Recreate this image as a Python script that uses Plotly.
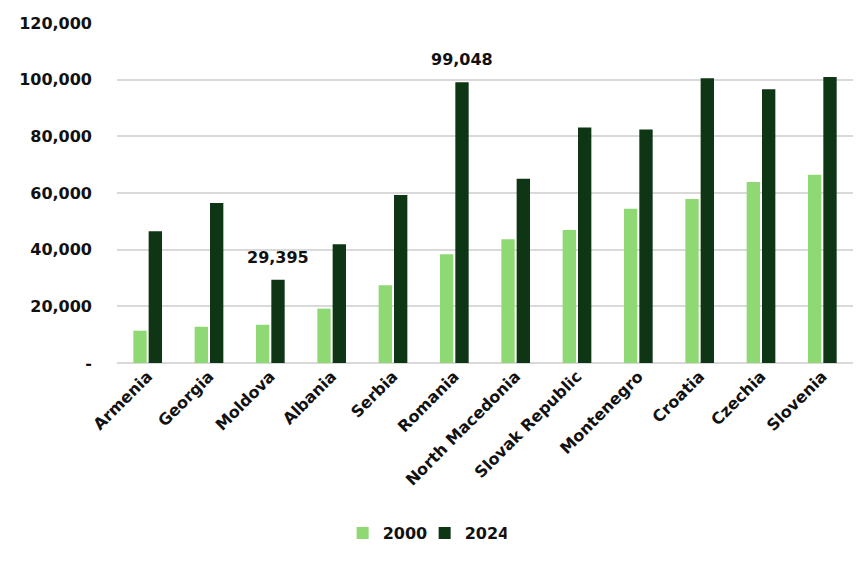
import plotly.graph_objects as go

countries = ["Armenia", "Georgia", "Moldova", "Albania", "Serbia", "Romania",
             "North Macedonia", "Slovak Republic", "Montenegro", "Croatia", "Czechia", "Slovenia"]
vals_2000 = [11400, 12800, 13500, 19200, 27400, 38400, 43700, 46900, 54400, 57900, 63900, 66400]
vals_2024 = [46500, 56500, 29395, 41900, 59300, 99048, 65000, 83100, 82400, 100500, 96600, 100900]
labelled = ["Moldova", "Romania"]

tick_vals = [0, 20000, 40000, 60000, 80000, 100000, 120000]
tick_text = ["-", "20,000", "40,000", "60,000", "80,000", "100,000", "120,000"]

FONT = "DejaVu Sans"

fig = go.Figure()
fig.add_trace(go.Bar(x=countries, y=vals_2000, name="2000", marker_color="#8fd974",
                     marker_line_width=0))
fig.add_trace(go.Bar(x=countries, y=vals_2024, name="2024", marker_color="#0e3614",
                     marker_line_width=0))

for c, v in zip(countries, vals_2024):
    if c in labelled:
        fig.add_annotation(x=c, y=v, text=f"{v:,}", showarrow=False,
                           xanchor="center", yanchor="bottom", xshift=8, yshift=11,
                           font=dict(family=FONT, size=16, color="#111111", weight="bold"))

# page body adds an 8px offset, so the figure is 8px smaller and margins compensate
fig.update_layout(
    width=859, height=554,
    margin=dict(l=109, r=14, t=15, b=193),
    plot_bgcolor="white", paper_bgcolor="white",
    barmode="group", bargap=0.5, bargroupgap=0.13,
    font=dict(family=FONT, color="#111111"),
    showlegend=True,
    legend=dict(orientation="h", x=0.418, xanchor="center", y=-0.5, yanchor="middle",
                font=dict(family=FONT, size=16, weight="bold"), itemwidth=30,
                entrywidth=37, traceorder="normal"),
    xaxis=dict(tickangle=-45, tickfont=dict(family=FONT, size=16, weight="bold"),
               showgrid=False, showline=False, ticks="", automargin=False),
    yaxis=dict(range=[0, 120000], tickvals=tick_vals, ticktext=tick_text,
               tickfont=dict(family=FONT, size=16, weight="bold"),
               showgrid=True, gridcolor="#d9d9d9", gridwidth=2,
               zeroline=True, zerolinecolor="#d9d9d9", zerolinewidth=2,
               ticks="", ticklabelstandoff=24, automargin=False),
)

fig.write_html("out.html")
